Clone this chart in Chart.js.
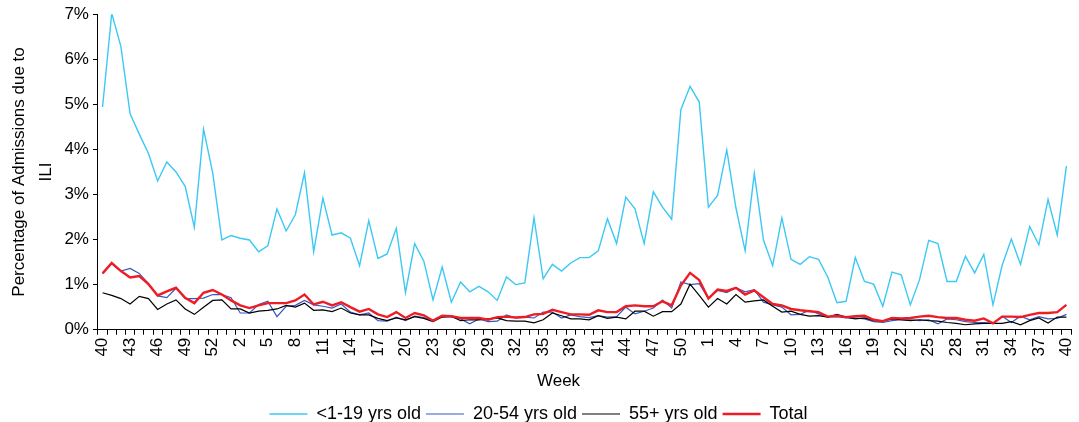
<!DOCTYPE html>
<html>
<head>
<meta charset="utf-8">
<script src="https://cdn.jsdelivr.net/npm/chart.js@4"></script>
<style>
  html, body { margin: 0; padding: 0; background: #fff; }
  #wrap { width: 1079px; height: 422px; }
</style>
</head>
<body>
<div id="wrap"><canvas id="chart" width="1079" height="422"></canvas></div>
<script>
// weeks 40..53, 1..52, 1..40
var weeks = [40, 41, 42, 43, 44, 45, 46, 47, 48, 49, 50, 51, 52, 53,
  1, 2, 3, 4, 5, 6, 7, 8, 9, 10, 11, 12, 13, 14, 15, 16, 17, 18, 19, 20,
  21, 22, 23, 24, 25, 26, 27, 28, 29, 30, 31, 32, 33, 34, 35, 36, 37, 38, 39, 40,
  41, 42, 43, 44, 45, 46, 47, 48, 49, 50, 51, 52,
  1, 2, 3, 4, 5, 6, 7, 8, 9, 10, 11, 12, 13, 14, 15, 16, 17, 18, 19, 20,
  21, 22, 23, 24, 25, 26, 27, 28, 29, 30, 31, 32, 33, 34, 35, 36, 37, 38, 39, 40];

var age0to19 = [4.94, 7.02, 6.28, 4.79, 4.34, 3.91, 3.30, 3.72, 3.50, 3.18, 2.27, 4.45, 3.48, 1.99,
  2.09, 2.03, 1.99, 1.73, 1.86, 2.68, 2.19, 2.55, 3.48, 1.73, 2.92, 2.10, 2.15, 2.03, 1.42, 2.42,
  1.58, 1.68, 2.25, 0.82, 1.91, 1.52, 0.66, 1.39, 0.61, 1.06, 0.84, 0.96, 0.84, 0.65, 1.17, 1.00,
  1.04, 2.48, 1.13, 1.45, 1.30, 1.48, 1.60, 1.60, 1.75, 2.46, 1.91, 2.94, 2.68, 1.91, 3.06, 2.72,
  2.45, 4.88, 5.40, 5.05, 2.72, 2.98, 3.99, 2.70, 1.75, 3.47, 1.99, 1.42, 2.48, 1.56, 1.45, 1.62,
  1.56, 1.17, 0.60, 0.63, 1.60, 1.07, 1.01, 0.52, 1.28, 1.22, 0.55, 1.11, 1.98, 1.91, 1.07, 1.07,
  1.63, 1.26, 1.67, 0.55, 1.43, 2.01, 1.45, 2.29, 1.88, 2.89, 2.10, 3.63];

var age20to54 = [1.25, 1.47, 1.30, 1.36, 1.25, 1.02, 0.75, 0.71, 0.92, 0.69, 0.69, 0.70, 0.78, 0.78,
  0.71, 0.37, 0.37, 0.56, 0.63, 0.29, 0.52, 0.54, 0.65, 0.55, 0.52, 0.48, 0.57, 0.39, 0.33, 0.37,
  0.20, 0.19, 0.28, 0.20, 0.30, 0.27, 0.20, 0.29, 0.28, 0.24, 0.13, 0.24, 0.18, 0.19, 0.33, 0.26,
  0.28, 0.26, 0.39, 0.39, 0.26, 0.33, 0.29, 0.27, 0.31, 0.28, 0.29, 0.50, 0.35, 0.41, 0.48, 0.66,
  0.48, 1.06, 1.00, 1.02, 0.70, 0.87, 0.82, 0.93, 0.84, 0.89, 0.61, 0.55, 0.50, 0.33, 0.34, 0.43,
  0.35, 0.28, 0.29, 0.26, 0.26, 0.24, 0.18, 0.16, 0.20, 0.22, 0.22, 0.20, 0.22, 0.13, 0.24, 0.22,
  0.18, 0.16, 0.16, 0.14, 0.30, 0.16, 0.30, 0.22, 0.29, 0.24, 0.25, 0.34];

var age55plus = [0.82, 0.76, 0.69, 0.57, 0.74, 0.69, 0.45, 0.57, 0.66, 0.46, 0.34, 0.50, 0.65, 0.66,
  0.46, 0.46, 0.37, 0.41, 0.43, 0.46, 0.54, 0.50, 0.59, 0.43, 0.44, 0.40, 0.48, 0.37, 0.33, 0.33,
  0.25, 0.20, 0.26, 0.22, 0.29, 0.25, 0.18, 0.28, 0.30, 0.20, 0.22, 0.22, 0.24, 0.26, 0.20, 0.19,
  0.19, 0.15, 0.22, 0.37, 0.31, 0.24, 0.24, 0.22, 0.31, 0.25, 0.28, 0.24, 0.41, 0.41, 0.30, 0.40,
  0.40, 0.57, 1.01, 0.76, 0.50, 0.69, 0.57, 0.78, 0.61, 0.64, 0.66, 0.52, 0.39, 0.41, 0.34, 0.30,
  0.31, 0.28, 0.34, 0.28, 0.24, 0.26, 0.20, 0.19, 0.24, 0.22, 0.20, 0.22, 0.20, 0.19, 0.16, 0.14,
  0.11, 0.13, 0.14, 0.14, 0.14, 0.18, 0.11, 0.20, 0.26, 0.15, 0.28, 0.28];

var total = [1.25, 1.48, 1.30, 1.16, 1.19, 1.01, 0.76, 0.85, 0.93, 0.71, 0.59, 0.82, 0.88, 0.78,
  0.65, 0.54, 0.48, 0.54, 0.59, 0.59, 0.59, 0.65, 0.78, 0.56, 0.62, 0.54, 0.61, 0.50, 0.40, 0.46,
  0.34, 0.28, 0.39, 0.26, 0.37, 0.32, 0.20, 0.31, 0.30, 0.26, 0.26, 0.26, 0.22, 0.28, 0.29, 0.27,
  0.28, 0.34, 0.35, 0.44, 0.39, 0.34, 0.34, 0.33, 0.43, 0.39, 0.39, 0.52, 0.54, 0.52, 0.52, 0.63,
  0.54, 0.98, 1.26, 1.10, 0.69, 0.89, 0.86, 0.93, 0.78, 0.87, 0.72, 0.57, 0.54, 0.46, 0.43, 0.41,
  0.39, 0.29, 0.31, 0.28, 0.30, 0.31, 0.22, 0.19, 0.26, 0.25, 0.26, 0.29, 0.31, 0.28, 0.26, 0.26,
  0.22, 0.20, 0.25, 0.14, 0.29, 0.29, 0.28, 0.33, 0.37, 0.37, 0.39, 0.55];

var yTicks = [0, 1, 2, 3, 4, 5, 6, 7];

Chart.defaults.font.family = "'Liberation Sans', Arial, sans-serif";
Chart.defaults.font.size = 17;
Chart.defaults.color = '#000';

var ctx = document.getElementById('chart').getContext('2d');
var myChart = new Chart(ctx, {
  type: 'line',
  data: {
    labels: weeks,
    datasets: [
      { label: '<1-19 yrs old', data: age0to19, borderColor: '#3CC8F4', borderWidth: 1.4, order: 3 },
      { label: '20-54 yrs old', data: age20to54, borderColor: '#3558C0', borderWidth: 1.2, order: 2 },
      { label: '55+ yrs old', data: age55plus, borderColor: '#000000', borderWidth: 1.2, order: 1 },
      { label: 'Total', data: total, borderColor: '#EE1C25', borderWidth: 2.4, order: 0 }
    ]
  },
  options: {
    responsive: false,
    animation: false,
    elements: { point: { radius: 0 }, line: { tension: 0, fill: false } },
    layout: { padding: { left: 6, right: 8, top: 11, bottom: -11 } },
    plugins: {
      tooltip: { enabled: false },
      legend: {
        position: 'bottom',
        labels: {
          font: { size: 18 },
          usePointStyle: true,
          pointStyleWidth: 38,
          pointStyle: 'line',
          boxHeight: 18,
          padding: 5,
          sort: function (a, b) { return a.datasetIndex - b.datasetIndex; }
        }
      }
    },
    scales: {
      x: {
        offset: true,
        border: { color: '#000', width: 1 },
        grid: { offset: true, drawOnChartArea: false, drawTicks: true, tickLength: 5, color: '#000' },
        ticks: {
          autoSkip: false,
          maxRotation: 90,
          minRotation: 90,
          padding: 3,
          callback: function (v, i) { return i % 3 === 0 ? weeks[i] : ''; }
        },
        // rotated labels need little room at the right end
        afterFit: function (axis) { axis.paddingRight = 0; },
        title: { display: true, text: 'Week' + '\u00a0'.repeat(11), padding: { top: 12, bottom: 8 } }
      },
      y: {
        min: 0,
        max: 7,
        border: { color: '#000', width: 1 },
        grid: { drawOnChartArea: false, drawTicks: true, tickLength: 5, color: '#000' },
        afterBuildTicks: function (axis) { axis.ticks = yTicks.map(function (v) { return { value: v }; }); },
        ticks: {
          padding: 4,
          callback: function (v) { return v + '%'; }
        },
        title: {
          display: true,
          text: ['Percentage of Admissions due to', 'ILI'],
          padding: { top: 0, bottom: 0 },
          font: { lineHeight: 1.6 }
        }
      }
    }
  }
});
</script>
</body>
</html>
